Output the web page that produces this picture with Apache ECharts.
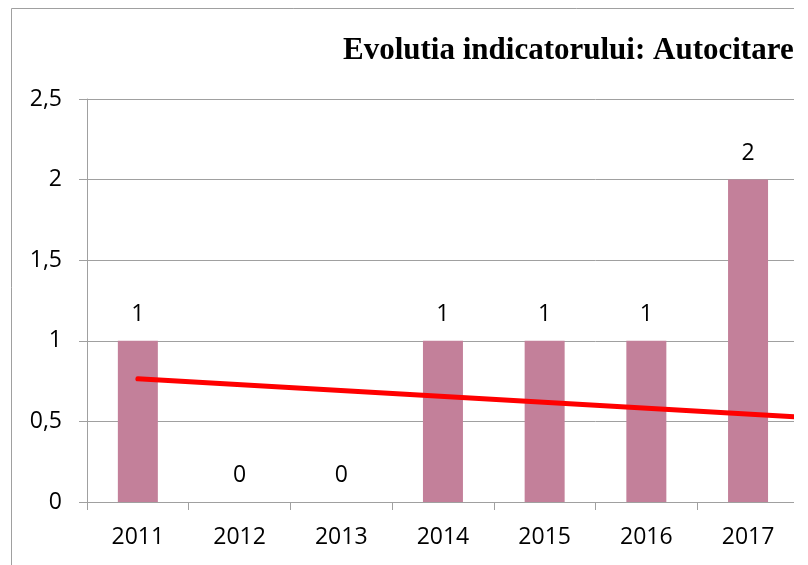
<!DOCTYPE html>
<html>
<head>
<meta charset="utf-8">
<script src="https://cdn.jsdelivr.net/npm/echarts@6/dist/echarts.min.js"></script>
<style>
  html, body { margin: 0; padding: 0; background: #fff; }
  #wrap { width: 794px; height: 565px; overflow: hidden; }
  #chart { width: 1140px; height: 565px; }
</style>
</head>
<body>
<div id="wrap"><div id="chart"></div></div>
<script>
// valori
var years = ['2011', '2012', '2013', '2014', '2015', '2016', '2017', '2018', '2019', '2020'];
var values = [1, 0, 0, 1, 1, 1, 2, 0, 0, 0];
// linia de trend (capete)
var trendYears = ['2011', '2020'];
var trendValues = [0.764, 0.436];

var chart = echarts.init(document.getElementById('chart'));
var option = {
  animation: false,
  backgroundColor: '#fff',
  title: {
    text: 'Evolutia indicatorului: Autocitare',
    left: 338,
    top: 30,
    textStyle: {
      fontFamily: 'Liberation Serif',
      fontWeight: 'bold',
      fontSize: 31,
      color: '#000'
    }
  },
  graphic: [{
    type: 'rect',
    shape: { x: 11.5, y: 8.5, width: 2000, height: 1000 },
    style: { fill: 'none', stroke: '#a0a0a0', lineWidth: 1 },
    silent: true
  }],
  grid: { left: 87, top: 99, bottom: 63, right: 36 },
  xAxis: {
    type: 'category',
    data: years,
    axisLine: { lineStyle: { color: '#a0a0a0' } },
    axisTick: { show: true, length: 8, lineStyle: { color: '#a0a0a0' } },
    axisLabel: {
      margin: 24,
      color: '#000',
      fontFamily: 'Open Sans',
      fontSize: 23
    }
  },
  yAxis: {
    type: 'value',
    min: 0,
    max: 2.5,
    interval: 0.5,
    axisLine: { show: true, lineStyle: { color: '#a0a0a0' } },
    axisTick: { show: true, length: 8, lineStyle: { color: '#a0a0a0' } },
    splitLine: { lineStyle: { color: '#a0a0a0' } },
    axisLabel: {
      margin: 25,
      color: '#000',
      fontFamily: 'Open Sans',
      fontSize: 23,
      formatter: function (v) { return String(v).replace('.', ','); }
    }
  },
  series: [{
    type: 'bar',
    data: values,
    barWidth: 40,
    itemStyle: { color: '#c3809a' },
    label: {
      show: true,
      position: 'top',
      distance: 15,
      color: '#000',
      fontFamily: 'Open Sans',
      fontSize: 23
    }
  }, {
    type: 'line',
    data: trendYears.map(function (y, i) { return [y, trendValues[i]]; }),
    symbol: 'none',
    lineStyle: { color: '#ff0000', width: 5, cap: 'round' },
    z: 5
  }]
};
chart.setOption(option);
</script>
</body>
</html>
